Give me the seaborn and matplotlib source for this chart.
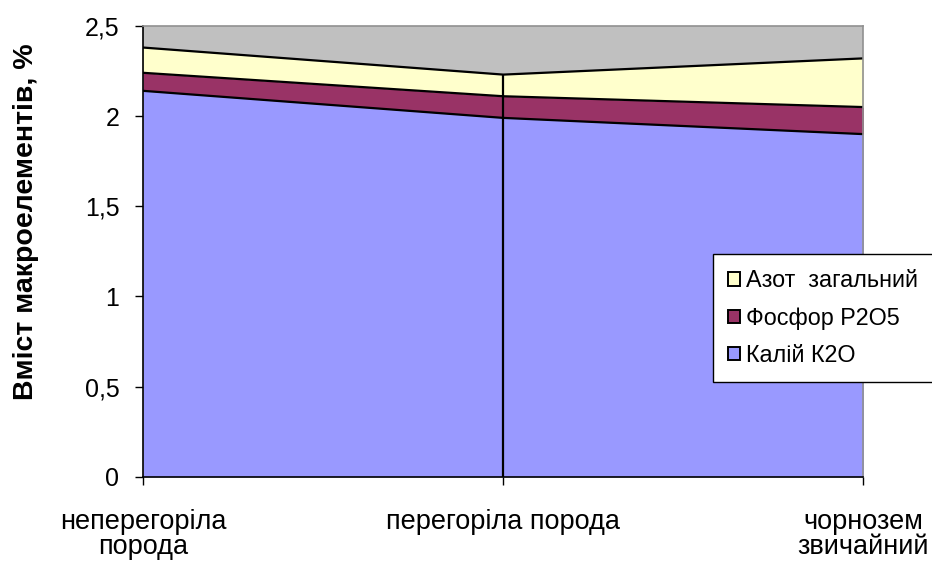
import pandas as pd
import seaborn as sns
import matplotlib.pyplot as plt
from matplotlib.patches import Patch
from matplotlib.ticker import FuncFormatter

# Дані
categories = ['неперегоріла\nпорода', 'перегоріла порода', 'чорнозем\nзвичайний']
kaliy = [2.14, 1.99, 1.90]
fosfor = [0.10, 0.12, 0.15]
azot = [0.14, 0.12, 0.27]
series_names = ['Калій К2О', 'Фосфор Р2О5', 'Азот  загальний']
colors = ['#9999FF', '#993366', '#FFFFCC']

sns.set_style('white')
plt.rcParams['font.family'] = ['Liberation Sans', 'DejaVu Sans']
plt.rcParams.update({'text.color': 'black', 'axes.labelcolor': 'black',
                     'xtick.color': 'black', 'ytick.color': 'black'})

x = list(range(len(categories)))
df = pd.DataFrame({'x': x, 'Калій': kaliy, 'Фосфор': fosfor, 'Азот': azot})
df['top1'] = df['Калій']
df['top2'] = df['top1'] + df['Фосфор']
df['top3'] = df['top2'] + df['Азот']

fig = plt.figure(figsize=(9.32, 5.63), dpi=100)
ax = fig.add_axes([0.1535, 0.153, 0.773, 0.801])
ax.set_facecolor('#C0C0C0')

ax.stackplot(df['x'], df['Калій'], df['Фосфор'], df['Азот'], colors=colors, linewidth=0)
for col in ['top1', 'top2', 'top3']:
    sns.lineplot(data=df, x='x', y=col, color='black', linewidth=1.6, ax=ax)
ax.vlines(1, 0, df['top3'][1], color='black', linewidth=1.6)

ax.set_xlim(0, 2)
ax.set_ylim(0, 2.5)
ax.set_yticks([0, 0.5, 1, 1.5, 2, 2.5])
ax.yaxis.set_major_formatter(FuncFormatter(lambda v, p: f'{v:g}'.replace('.', ',')))
ax.set_xticks(x)
ax.set_xticklabels(categories, fontsize=19.5, linespacing=0.95)
ax.tick_params(axis='y', labelsize=18, length=6, width=1, direction='out', left=True, pad=11)
ax.tick_params(axis='x', length=6, width=1, direction='out', bottom=True, pad=17)
ax.set_xlabel('')
ax.set_ylabel('Вміст макроелементів, %', fontsize=20.5, fontweight='bold')
ax.yaxis.set_label_coords(-0.145, 0.565)

for s in ['left', 'bottom']:
    ax.spines[s].set_color('black')
    ax.spines[s].set_linewidth(1.2)
for s in ['top', 'right']:
    ax.spines[s].set_color('#909090')
    ax.spines[s].set_linewidth(1.2)

handles = [Patch(facecolor=c, edgecolor='black', linewidth=1.4) for c in colors[::-1]]
leg = fig.legend(handles, series_names[::-1], loc='lower left',
                 bbox_to_anchor=(0.765, 0.321), fontsize=16.8, frameon=True,
                 fancybox=False, shadow=False, framealpha=1, handlelength=0.5,
                 handleheight=0.5, handletextpad=0.25, labelspacing=0.62,
                 borderpad=0.65, borderaxespad=0)
leg.get_frame().set_edgecolor('black')
leg.get_frame().set_facecolor('white')
leg.get_frame().set_linewidth(1.0)

fig.savefig('out.png', dpi=100)
